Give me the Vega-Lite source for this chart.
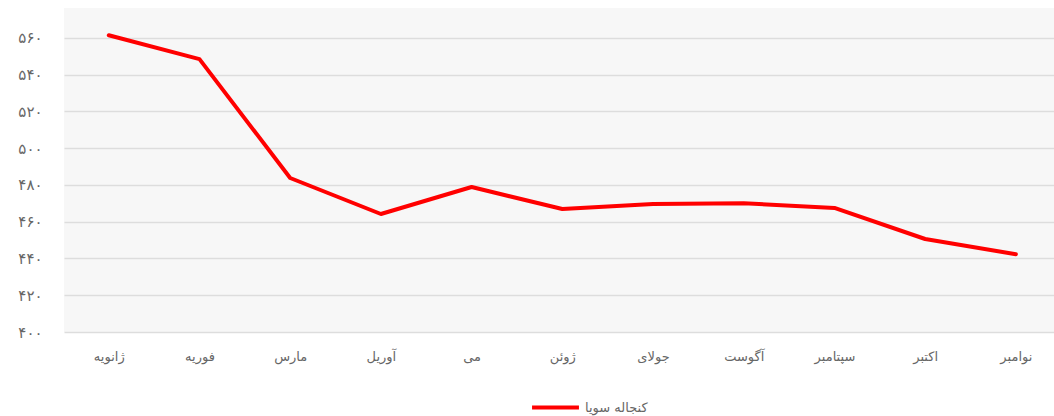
{
  "$schema": "https://vega.github.io/schema/vega-lite/v6.json",
  "width": 990,
  "height": 324,
  "autosize": {"type": "none"},
  "padding": {"left": 64, "top": 8, "right": 0, "bottom": 84},
  "background": "#ffffff",
  "view": {"fill": "#f7f7f7", "stroke": null},
  "data": {
    "values": [
      {"month": "ژانویه", "order": 1, "value": 561.5, "series": "کنجاله سویا"},
      {"month": "فوریه", "order": 2, "value": 548.5, "series": "کنجاله سویا"},
      {"month": "مارس", "order": 3, "value": 483.8, "series": "کنجاله سویا"},
      {"month": "آوریل", "order": 4, "value": 464.2, "series": "کنجاله سویا"},
      {"month": "می", "order": 5, "value": 478.9, "series": "کنجاله سویا"},
      {"month": "ژوئن", "order": 6, "value": 466.9, "series": "کنجاله سویا"},
      {"month": "جولای", "order": 7, "value": 469.7, "series": "کنجاله سویا"},
      {"month": "آگوست", "order": 8, "value": 470.1, "series": "کنجاله سویا"},
      {"month": "سپتامبر", "order": 9, "value": 467.5, "series": "کنجاله سویا"},
      {"month": "اکتبر", "order": 10, "value": 450.6, "series": "کنجاله سویا"},
      {"month": "نوامبر", "order": 11, "value": 442.3, "series": "کنجاله سویا"}
    ]
  },
  "mark": {"type": "line", "strokeWidth": 4, "strokeCap": "round", "strokeJoin": "round"},
  "encoding": {
    "x": {
      "field": "month",
      "type": "nominal",
      "sort": {"field": "order"},
      "scale": {"type": "point", "padding": 0.457, "align": 0.54},
      "axis": {
        "title": null,
        "domain": false,
        "ticks": false,
        "grid": false,
        "labelAngle": 0,
        "labelPadding": 18,
        "labelFont": "DejaVu Sans",
        "labelFontSize": 13,
        "labelColor": "#666666"
      }
    },
    "y": {
      "field": "value",
      "type": "quantitative",
      "scale": {"domain": [400, 576.3], "nice": false, "zero": false},
      "axis": {
        "title": null,
        "values": [400, 420, 440, 460, 480, 500, 520, 540, 560],
        "domain": false,
        "ticks": false,
        "grid": true,
        "gridColor": "#dddddd",
        "gridWidth": 1.5,
        "labelPadding": 22,
        "labelFont": "DejaVu Sans",
        "labelFontSize": 15,
        "labelColor": "#666666",
        "labelExpr": "replace(replace(replace(replace(replace(replace(replace(replace(replace(replace(datum.label, regexp('0','g'), '۰'), regexp('1','g'), '۱'), regexp('2','g'), '۲'), regexp('3','g'), '۳'), regexp('4','g'), '۴'), regexp('5','g'), '۵'), regexp('6','g'), '۶'), regexp('7','g'), '۷'), regexp('8','g'), '۸'), regexp('9','g'), '۹')"
      }
    },
    "color": {
      "field": "series",
      "type": "nominal",
      "scale": {"range": ["#ff0000"]},
      "legend": {
        "title": null,
        "orient": "none",
        "legendX": 466,
        "legendY": 374,
        "padding": 0,
        "direction": "horizontal",
        "symbolType": "stroke",
        "symbolSize": 2200,
        "symbolStrokeWidth": 4,
        "labelFont": "DejaVu Sans",
        "labelFontSize": 13,
        "labelColor": "#666666",
        "labelOffset": 4
      }
    }
  }
}
